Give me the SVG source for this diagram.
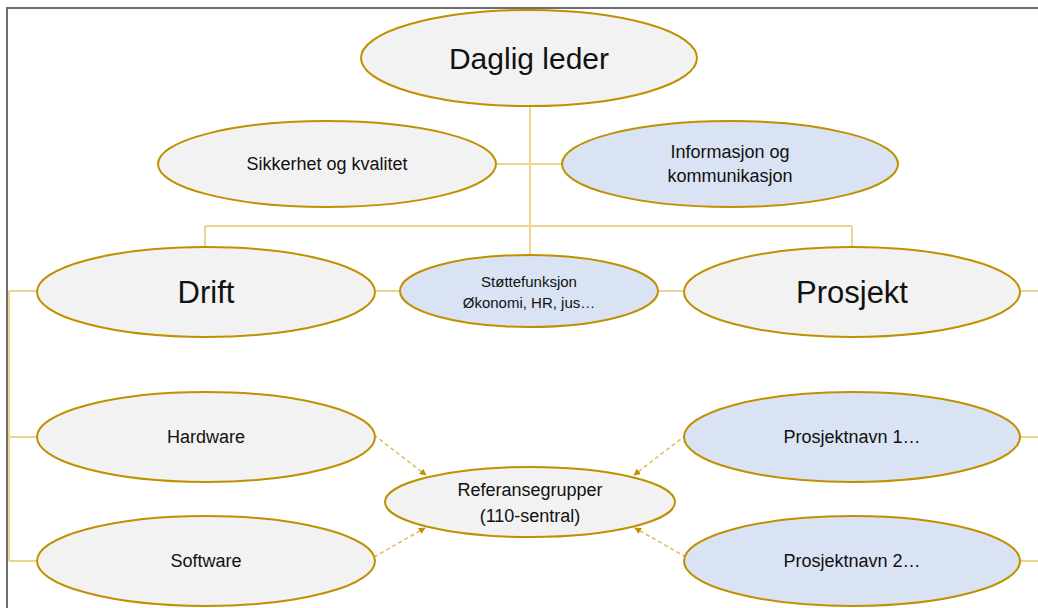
<svg xmlns="http://www.w3.org/2000/svg" width="1038" height="608" viewBox="0 0 1038 608">
<defs>
<style>
.n{stroke:#c09000;stroke-width:2}
.g{fill:#f2f2f2}
.b{fill:#dae3f3}
.t{font-family:"Liberation Sans",Arial,sans-serif;fill:#111111;text-anchor:middle;dominant-baseline:central}
.c{stroke:#ecd48e;stroke-width:2;fill:none}
.d{stroke:#e0b860;stroke-width:1.5;stroke-dasharray:4 3;fill:none}
</style>
<marker id="ah" viewBox="0 0 10 10" refX="9" refY="5" markerWidth="4.5" markerHeight="4.5" orient="auto">
<path d="M0,0 L10,5 L0,10 z" fill="#c09000"/>
</marker>
</defs>
<rect width="1038" height="608" fill="#ffffff"/>
<path d="M7,608 V8 H1038" fill="none" stroke="#6e6e6e" stroke-width="2"/>
<g id="connectors">
<path class="c" d="M530,106 V256"/>
<path class="c" d="M497,164 H562"/>
<path class="c" d="M205,226 H852 M205,226 V248 M852,226 V248"/>
<path class="c" d="M376,291 H400 M658,291 H684 M1020,291 H1038"/>
<path class="c" d="M9,291 V561 M9,291 H37 M9,437 H37 M9,561 H37"/>
<path class="c" d="M1020,437 H1038 M1020,561 H1038"/>
<path class="d" d="M374,435 L426,475" marker-end="url(#ah)"/>
<path class="d" d="M374,557 L425,528" marker-end="url(#ah)"/>
<path class="d" d="M686,435 L634,475" marker-end="url(#ah)"/>
<path class="d" d="M686,557 L635,528" marker-end="url(#ah)"/>
</g>
<g id="daglig-leder"><ellipse class="n g" cx="529" cy="58" rx="168" ry="48"/><text class="t" x="529" y="58" font-size="30">Daglig leder</text></g>
<g id="sikkerhet"><ellipse class="n g" cx="327" cy="164" rx="169" ry="43"/><text class="t" x="327" y="164" font-size="18">Sikkerhet og kvalitet</text></g>
<g id="informasjon"><ellipse class="n b" cx="730" cy="164" rx="168" ry="43"/><text class="t" x="730" y="152" font-size="18">Informasjon og</text><text class="t" x="730" y="176" font-size="18">kommunikasjon</text></g>
<g id="drift"><ellipse class="n g" cx="206" cy="292" rx="169" ry="45"/><text class="t" x="206" y="292" font-size="31">Drift</text></g>
<g id="stottefunksjon"><ellipse class="n b" cx="529" cy="291" rx="129" ry="36"/><text class="t" x="529" y="281" font-size="15">Støttefunksjon</text><text class="t" x="529" y="302" font-size="15">Økonomi, HR, jus…</text></g>
<g id="prosjekt"><ellipse class="n g" cx="852" cy="292" rx="168" ry="45"/><text class="t" x="852" y="292" font-size="31">Prosjekt</text></g>
<g id="hardware"><ellipse class="n g" cx="206" cy="437" rx="169" ry="45"/><text class="t" x="206" y="437" font-size="18">Hardware</text></g>
<g id="software"><ellipse class="n g" cx="206" cy="561" rx="169" ry="45"/><text class="t" x="206" y="561" font-size="18">Software</text></g>
<g id="prosjektnavn1"><ellipse class="n b" cx="852" cy="437" rx="168" ry="45"/><text class="t" x="852" y="437" font-size="18">Prosjektnavn 1…</text></g>
<g id="prosjektnavn2"><ellipse class="n b" cx="852" cy="561" rx="168" ry="45"/><text class="t" x="852" y="561" font-size="18">Prosjektnavn 2…</text></g>
<g id="referansegrupper"><ellipse class="n g" cx="530" cy="502" rx="145" ry="35"/><text class="t" x="530" y="490" font-size="18">Referansegrupper</text><text class="t" x="530" y="516" font-size="18">(110-sentral)</text></g>
</svg>
